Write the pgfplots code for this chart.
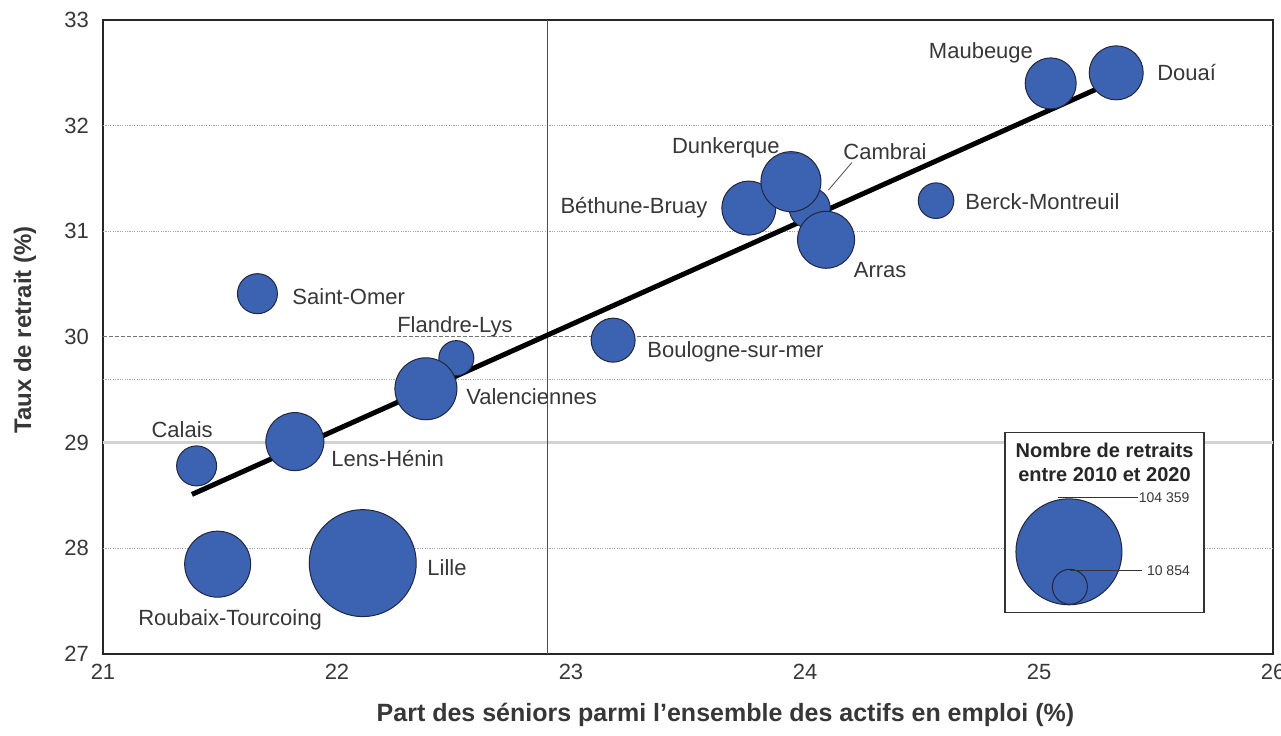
\documentclass[border=0pt]{standalone}
\usepackage{fontspec}
\setmainfont{Liberation Sans}
\usepackage{pgfplots}
\pgfplotsset{compat=1.18}
\usepackage{pgfplotstable}

\definecolor{bubblue}{RGB}{60,98,178}
\definecolor{bubedge}{RGB}{35,38,60}
\definecolor{txtgray}{RGB}{55,55,55}

% x y r(mark size, pt) -- drawing order matters for overlaps
\pgfplotstableread{
x      y      r
21.66  30.41  10
21.40  28.78  10
21.82  29.01  14.5
21.49  27.85  16.5
22.11  27.86  26.75
22.51  29.80  8.75
22.38  29.51  15.5
23.18  29.97  11
23.76  31.22  13.5
24.02  31.22  10.25
23.94  31.47  15
24.09  30.92  14.25
24.56  31.29  8.9
25.05  32.40  12.75
25.33  32.50  13.5
}\bubbles

\pgfplotstableread{
x      y      r
25.128 27.967 26.5
25.132 27.636 8.75
}\sizekey

\pgfplotsset{bubble/.style={
    scatter, only marks, mark=*,
    scatter/use mapped color={draw=bubedge, fill=bubblue},
    visualization depends on={\thisrow{r} \as \rad},
    scatter/@pre marker code/.append style={/tikz/mark size=\rad},
    mark options={line width=0.5pt}}}

\begin{document}
\begin{tikzpicture}
\begin{axis}[
    width=585pt, height=317pt,
    scale only axis,
    clip=false,
    xmin=21, xmax=26, ymin=27, ymax=33,
    xtick={21,22,...,26}, ytick={27,28,...,33},
    major tick length=0pt,
    axis line style={draw=black!85, line width=0.8pt},
    tick label style={font=\fontsize{11}{13}\selectfont, color=txtgray},
    /pgf/number format/assume math mode=true,
    yticklabel style={xshift=-3.5pt},
    xticklabel style={yshift=-1.5pt},
]
% reference lines
\draw[gray!70, line width=0.5pt, dash pattern=on 0.6pt off 0.6pt] (axis cs:21,28) -- (axis cs:26,28);
\draw[gray!70, line width=0.5pt, dash pattern=on 0.6pt off 0.6pt] (axis cs:21,31) -- (axis cs:26,31);
\draw[gray!70, line width=0.5pt, dash pattern=on 0.6pt off 0.6pt] (axis cs:21,32) -- (axis cs:26,32);
\draw[gray!70, line width=0.5pt, dash pattern=on 0.6pt off 0.6pt] (axis cs:21,29.6) -- (axis cs:26,29.6);
\draw[black!55, line width=0.5pt, dash pattern=on 2pt off 1pt] (axis cs:21,30) -- (axis cs:26,30);
\draw[gray!35, line width=1.5pt] (axis cs:21,29) -- (axis cs:26,29);
\draw[black!70, line width=0.8pt] (axis cs:22.9,27) -- (axis cs:22.9,33);

% trend line
\addplot[black, line width=2.5pt, no marks] coordinates {(21.38,28.51) (25.30,32.40)};

% bubbles
\addplot[bubble] table[x=x, y=y] {\bubbles};

% labels
\begin{scope}[every node/.style={font=\fontsize{11}{13}\selectfont, text=txtgray, inner sep=0pt}]
\node at (axis cs:24.752,32.688) {Maubeuge};
\node[anchor=west] at (axis cs:25.504,32.499) {Douaí};
\node at (axis cs:23.662,31.789) {Dunkerque};
\node at (axis cs:24.342,31.751) {Cambrai};
\node at (axis cs:23.269,31.221) {Béthune-Bruay};
\node[anchor=west] at (axis cs:24.684,31.278) {Berck-Montreuil};
\node at (axis cs:24.321,30.635) {Arras};
\node[anchor=west] at (axis cs:21.808,30.379) {Saint-Omer};
\node[anchor=west] at (axis cs:22.256,30.096) {Flandre-Lys};
\node[anchor=west] at (axis cs:23.325,29.859) {Boulogne-sur-mer};
\node[anchor=west] at (axis cs:22.551,29.433) {Valenciennes};
\node at (axis cs:21.338,29.121) {Calais};
\node[anchor=west] at (axis cs:21.974,28.847) {Lens-Hénin};
\node[anchor=west] at (axis cs:22.385,27.815) {Lille};
\node at (axis cs:21.543,27.324) {Roubaix-Tourcoing};
\end{scope}
\coordinate (c1) at (axis cs:24.20,31.65);
\coordinate (c2) at (axis cs:24.10,31.39);
\coordinate (d1) at (axis cs:23.905,31.74);
\coordinate (d2) at (axis cs:23.97,31.74);

% size key
\draw[fill=white, draw=black!80, line width=0.6pt] (axis cs:24.855,27.39) rectangle (axis cs:25.705,29.093);
\node[font=\bfseries\fontsize{10}{12}\selectfont, text=black!85, align=center] at (axis cs:25.28,28.81) {Nombre de retraits\\entre 2010 et 2020};
\addplot[bubble] table[x=x, y=y] {\sizekey};
\coordinate (k1) at (axis cs:25.081,28.478);
\coordinate (k2) at (axis cs:25.423,28.478);
\coordinate (k3) at (axis cs:25.132,27.792);
\coordinate (k4) at (axis cs:25.44,27.792);
\node[anchor=west, inner sep=0pt, font=\fontsize{7}{8}\selectfont, text=txtgray] at (axis cs:25.425,28.478) {104 359};
\node[anchor=west, inner sep=0pt, font=\fontsize{7}{8}\selectfont, text=txtgray] at (axis cs:25.46,27.792) {10 854};

% axis titles
\node[font=\bfseries\fontsize{12.5}{14}\selectfont, text=txtgray] at ([yshift=-30.5pt]rel axis cs:0.532,0) {Part des séniors parmi l'ensemble des actifs en emploi (\%)};
\node[rotate=90, font=\bfseries\fontsize{12}{14}\selectfont, text=txtgray] at ([xshift=-39pt]rel axis cs:0,0.511) {Taux de retrait (\%)};
\end{axis}
% leader lines on top of the bubbles
\draw[black!70, line width=0.4pt] (c1) -- (c2);
\draw[black!70, line width=0.4pt] (d1) -- (d2);
\draw[black!80, line width=0.4pt] (k1) -- (k2);
\draw[black!80, line width=0.4pt] (k3) -- (k4);
\pgfresetboundingbox
\path ([xshift=-51.5pt,yshift=-41pt]current axis.south west) rectangle ([xshift=4pt,yshift=10pt]current axis.north east);
\end{tikzpicture}
\end{document}
